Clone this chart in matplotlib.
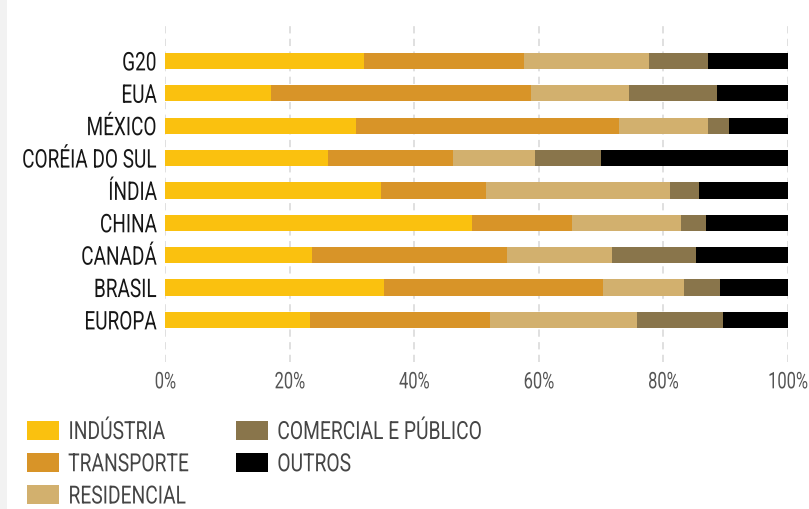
import matplotlib
matplotlib.use('Agg')
import numpy as np
import matplotlib.pyplot as plt
from matplotlib.patches import Rectangle
from matplotlib.patheffects import AbstractPathEffect
from matplotlib.transforms import Affine2D

plt.rcParams['font.family'] = ['Roboto', 'DejaVu Sans']

# participação (%) de cada setor por país/bloco
paises = ['G20', 'EUA', 'MÉXICO', 'CORÉIA DO SUL', 'ÍNDIA', 'CHINA', 'CANADÁ', 'BRASIL', 'EUROPA']
industria   = [31.9, 17.0, 30.6, 26.1, 34.6, 49.2, 23.6, 35.2, 23.2]
transporte  = [25.7, 41.7, 42.3, 20.1, 16.9, 16.1, 31.3, 35.1, 29.0]
residencial = [20.1, 15.8, 14.3, 13.2, 29.6, 17.6, 16.9, 13.0, 23.6]
comercial   = [9.5, 14.1, 3.4, 10.6, 4.6, 4.0, 13.5, 5.8, 13.8]
outros      = [12.8, 11.4, 9.4, 30.0, 14.3, 13.1, 14.7, 10.9, 10.4]

setores = ['INDÚSTRIA', 'TRANSPORTE', 'RESIDENCIAL', 'COMERCIAL E PÚBLICO', 'OUTROS']
cores = ['#FAC10F', '#D89428', '#D2B06E', '#89754B', '#000000']
series = [industria, transporte, residencial, comercial, outros]


class Condensado(AbstractPathEffect):
    """Estreita o texto na horizontal (fonte condensada), mantendo o ponto de alinhamento."""

    def __init__(self, sx=0.74, ancora=0.0):
        super().__init__()
        self.sx = sx
        self.ancora = ancora

    def draw_path(self, renderer, gc, tpath, affine, rgbFace=None):
        ext = tpath.get_extents()
        x0 = ext.x0 + (ext.x1 - ext.x0) * self.ancora
        t = Affine2D().translate(-x0, 0).scale(self.sx, 1).translate(x0, 0) + affine
        renderer.draw_path(gc, tpath, t, rgbFace)


fig = plt.figure(figsize=(8.09, 5.09), dpi=100)
fig.patches.append(Rectangle((0, 0), 7 / 809, 1, transform=fig.transFigure,
                             facecolor='#f2f2f2', edgecolor='none', zorder=0))

ax = fig.add_axes([165.3 / 809, 1 - 362 / 509, 622.5 / 809, 338 / 509])

y = np.arange(len(paises))
base = np.zeros(len(paises))
barras = []
for nome, valores, cor in zip(setores, series, cores):
    b = ax.barh(y, valores, left=base, height=0.5, color=cor, label=nome, zorder=3)
    barras.append(b)
    base += np.array(valores)

ax.set_xlim(0, 100)
ax.set_ylim(9.3, -1.14)
ax.set_yticks(y)
ax.set_yticklabels(paises, fontsize=18.5, color='#161616')
ax.set_xticks([0, 20, 40, 60, 80, 100])
ax.set_xticklabels(['0%', '20%', '40%', '60%', '80%', '100%'], fontsize=16.5, color='#555555')
ax.tick_params(axis='both', length=0)
ax.tick_params(axis='y', pad=6)
ax.tick_params(axis='x', pad=6)
ax.grid(axis='x', color='#dddddd', linestyle=(0, (4, 3)), linewidth=1.3, zorder=0)
for s in ax.spines.values():
    s.set_visible(False)

for t in ax.get_yticklabels():
    t.set_path_effects([Condensado(0.74, 1.0)])
for t in ax.get_xticklabels():
    t.set_path_effects([Condensado(0.72, 0.5)])

# legenda em duas colunas
opts = dict(loc='upper left', frameon=False, fontsize=18, labelcolor='#454545',
            handlelength=1.28, handleheight=0.8, handletextpad=0.36,
            labelspacing=0.33, borderpad=0, borderaxespad=0)
leg1 = fig.legend(barras[:3], setores[:3], bbox_to_anchor=(27 / 809, 1 - 420 / 509), **opts)
leg2 = fig.legend(barras[3:], setores[3:], bbox_to_anchor=(236 / 809, 1 - 420 / 509), **opts)
for leg in (leg1, leg2):
    for t in leg.get_texts():
        t.set_path_effects([Condensado(0.77, 0.0)])

plt.savefig('out.png', dpi=100)
plt.close()
